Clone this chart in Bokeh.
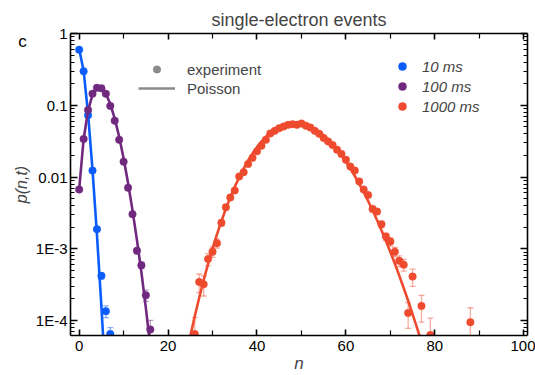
from bokeh.plotting import figure
from bokeh.models import (Range1d, LinearAxis, LogAxis, FixedTicker, Legend, LegendItem, Label,
                          ColumnDataSource)
from bokeh.embed import file_html
from bokeh.resources import INLINE

# ---------------- data ----------------
n_10 = [0, 1, 2, 3, 4, 5, 6, 7]
p_10 = [0.595, 0.298, 0.0727, 0.0123, 1.88e-3, 4.2e-4, 1.35e-4, 6.5e-5]
err_10 = [0.002, 0.002, 0.001, 3e-4, 1e-4, 4e-5, 2.5e-5, 1.5e-5]

n_100 = [0, 1, 2, 3, 4, 5, 6, 7, 8, 9, 10, 11, 12, 13, 14, 15, 16]
p_100 = [6.7e-3, 0.0339, 0.086, 0.145, 0.175, 0.172, 0.145, 0.098, 0.061, 0.033, 0.0164,
         7.1e-3, 3.04e-3, 9.4e-4, 5.9e-4, 2.25e-4, 7.5e-5]
err_100 = [3e-4, 8e-4, 1e-3, 1.5e-3, 1.5e-3, 1.5e-3, 1.5e-3, 1e-3, 8e-4, 6e-4, 4e-4,
           2.5e-4, 1.5e-4, 8e-5, 6e-5, 4e-5, 2.6e-5]

n_1000 = [26, 27, 28, 29, 30, 31, 32, 33, 34, 35, 36, 37, 38, 39, 40, 41, 42, 43, 44, 45,
          46, 47, 48, 49, 50, 51, 52, 53, 54, 55, 56, 57, 58, 59, 60, 61, 62, 63, 64, 65,
          66, 67, 68, 69, 70, 71, 72, 73, 74, 75, 77, 79, 88]
p_1000 = [6.5e-5, 3.46e-4, 3.2e-4, 7.2e-4, 9.1e-4, 1.2e-3, 2.3e-3, 3.8e-3, 5.2e-3, 6.5e-3,
          0.0102, 0.0117, 0.0152, 0.0185, 0.0228, 0.0273, 0.033, 0.0405, 0.044, 0.048,
          0.0506, 0.0534, 0.0545, 0.0534, 0.0558, 0.052, 0.049, 0.044, 0.040, 0.035,
          0.0314, 0.028, 0.0241, 0.021, 0.0174, 0.014, 0.0123, 8.7e-3, 6.7e-3, 5.6e-3,
          3.6e-3, 3.3e-3, 2.2e-3, 1.48e-3, 1.26e-3, 9.1e-4, 6.8e-4, 6.0e-4, 1.28e-4, 4.1e-4,
          1.6e-4, 6.3e-5, 9.5e-5]
err_1000 = [4.5e-5, 1.0e-4, 1.0e-4, 1.4e-4, 1.5e-4, 1.8e-4, 2.4e-4, 3.0e-4, 3.5e-4, 4.0e-4,
            5e-4, 5.5e-4, 6e-4, 7e-4, 7.5e-4, 8e-4, 9e-4, 1e-3, 1e-3, 1e-3,
            1e-3, 1e-3, 1e-3, 1e-3, 1e-3, 1e-3, 1e-3, 1e-3, 1e-3, 1e-3,
            1e-3, 1e-3, 1e-3, 9e-4, 8e-4, 7e-4, 6e-4, 5e-4, 4e-4, 3.7e-4,
            3e-4, 2.8e-4, 2.2e-4, 1.8e-4, 1.7e-4, 1.4e-4, 1.2e-4, 1.1e-4, 5e-5, 1.1e-4,
            6.5e-5, 4.5e-5, 5.6e-5]

fit_n_10 = [0, 1, 2, 3, 4, 5, 6]
fit_p_10 = [0.607, 0.303, 0.0758, 0.0126, 1.58e-3, 1.58e-4, 1.3e-5]

fit_n_100 = [0, 1, 2, 3, 4, 5, 6, 7, 8, 9, 10, 11, 12, 13, 14, 15, 16, 17]
fit_p_100 = [6.74e-3, 0.0337, 0.0842, 0.1404, 0.1755, 0.1755, 0.1462, 0.1044, 0.0653, 0.0363,
             0.0181, 8.24e-3, 3.43e-3, 1.32e-3, 4.72e-4, 1.5e-4, 4.3e-5, 1.2e-5]

fit_n_1000 = [24, 25, 26, 27, 28, 29, 30, 31, 32, 33, 34, 35, 36, 37, 38, 39, 40, 41, 42, 43,
              44, 45, 46, 47, 48, 49, 50, 51, 52, 53, 54, 55, 56, 57, 58, 59, 60, 61, 62, 63,
              64, 65, 66, 67, 68, 69, 70, 71, 72, 73, 74, 75, 76, 77, 78]
fit_p_1000 = [3.11e-5, 6.09e-5, 1.15e-4, 2.08e-4, 3.65e-4, 6.16e-4, 1.01e-3, 1.59e-3, 2.43e-3,
              3.62e-3, 5.21e-3, 7.29e-3, 9.93e-3, 0.01315, 0.0170, 0.0213, 0.0261, 0.0312,
              0.0364, 0.0415, 0.0462, 0.0503, 0.0536, 0.0558, 0.0570, 0.0570, 0.0559, 0.0537,
              0.0506, 0.0468, 0.0424, 0.0378, 0.0331, 0.0284, 0.0240, 0.0200, 0.0163, 0.0131,
              0.01034, 8.04e-3, 6.16e-3, 4.64e-3, 3.45e-3, 2.52e-3, 1.82e-3, 1.29e-3, 9.03e-4,
              6.23e-4, 4.24e-4, 2.85e-4, 1.89e-4, 1.23e-4, 7.94e-5, 5.05e-5, 3.18e-5]

series_labels = ["10 ms", "100 ms", "1000 ms"]
series_colors = ["#0B5CFA", "#70297F", "#EE4A2E"]
key_labels = ["experiment", "Poisson"]
panel_letter = "c"

x_ticks = [0, 20, 40, 60, 80, 100]
x_minor = [10, 30, 50, 70, 90]
y_ticks = [1e-4, 1e-3, 1e-2, 1e-1, 1.0]
y_tick_labels = ["1E-4", "1E-3", "0.01", "0.1", "1"]
y_minor = [k * d for d in [1e-5, 1e-4, 1e-3, 1e-2, 1e-1] for k in range(2, 10)]

FONT = "Liberation Sans"
NAN = float("nan")

# ---------------- figure ----------------
p = figure(width=535, height=375, y_axis_type="log",
           x_range=Range1d(-1.95, 100.85), y_range=Range1d(6.2e-5, 1.0),
           output_backend="svg", toolbar_location=None,
           min_border_left=70, min_border_right=8, min_border_top=33, min_border_bottom=38)
p.outline_line_color = None
p.xgrid.visible = False
p.ygrid.visible = False
p.background_fill_color = "white"
p.border_fill_color = "white"

p.title.text = "single-electron events"
p.title.align = "center"
p.title.text_font = FONT
p.title.text_font_size = "18px"
p.title.text_font_style = "normal"
p.title.standoff = 7

xt = FixedTicker(ticks=x_ticks, minor_ticks=x_minor)
yt = FixedTicker(ticks=y_ticks, minor_ticks=y_minor)


def style_axis(ax, major_in, minor_in):
    ax.axis_line_width = 1.6
    ax.axis_line_color = "black"
    ax.major_tick_line_width = 1.6
    ax.minor_tick_line_width = 1.2
    ax.major_tick_in = major_in
    ax.major_tick_out = 0
    ax.minor_tick_in = minor_in
    ax.minor_tick_out = 0
    ax.major_label_text_font = FONT
    ax.major_label_text_font_size = "15px"
    ax.major_label_text_color = "black"


xa = p.xaxis[0]
xa.ticker = xt
style_axis(xa, 6, 5)
xa.major_label_standoff = 5
xa.axis_label = "n"
xa.axis_label_text_font = FONT
xa.axis_label_text_font_style = "italic"
xa.axis_label_text_font_size = "17px"
xa.axis_label_standoff = 0

ya = p.yaxis[0]
ya.ticker = yt
style_axis(ya, 7, 4)
ya.major_label_standoff = 3
ya.major_label_overrides = {v: s for v, s in zip(y_ticks, y_tick_labels)}
ya.axis_label = "p(n,t)"
ya.axis_label_text_font = FONT
ya.axis_label_text_font_style = "italic"
ya.axis_label_text_font_size = "16px"
ya.axis_label_standoff = 3

top = LinearAxis(ticker=xt)
style_axis(top, 6, 5)
top.major_label_text_font_size = "1px"
top.major_label_text_alpha = 0
top.major_label_standoff = 0
p.add_layout(top, "above")

right = LogAxis(ticker=yt)
style_axis(right, 7, 4)
right.major_label_text_font_size = "1px"
right.major_label_text_alpha = 0
right.major_label_standoff = 0
p.add_layout(right, "right")

# ---------------- series ----------------
groups = [(n_10, p_10, err_10, fit_n_10, fit_p_10),
          (n_100, p_100, err_100, fit_n_100, fit_p_100),
          (n_1000, p_1000, err_1000, fit_n_1000, fit_p_1000)]

point_renderers = []
for (nn, pp, ee, fn, fp), col in zip(groups, series_colors):
    up = [a + b for a, b in zip(pp, ee)]
    lo = [max(a - b, 1e-8) for a, b in zip(pp, ee)]
    src = ColumnDataSource(dict(n=nn, p=pp, up=up, lo=lo))
    p.segment(x0="n", y0="lo", x1="n", y1="up", source=src, line_color=col,
              line_alpha=0.45, line_width=1.3)
    p.scatter(x="n", y="up", source=src, marker="dash", size=6, line_color=col,
              line_alpha=0.45, line_width=1.3)
    p.scatter(x="n", y="lo", source=src, marker="dash", size=6, line_color=col,
              line_alpha=0.45, line_width=1.3)
    p.line(fn, fp, line_color=col, line_width=2.6)
    r = p.scatter(x="n", y="p", source=src, marker="circle", size=7.5,
                  fill_color=col, line_color=col, line_width=0.5)
    point_renderers.append(r)

# legend proxies (not drawn: NaN data)
r_exp = p.scatter(x=[NAN], y=[NAN], marker="circle", size=7.5, fill_color="#8a8a8a",
                  line_color="#8a8a8a")
r_poi = p.line(x=[NAN, NAN], y=[NAN, NAN], line_color="#8a8a8a", line_width=2.6)

leg1 = Legend(items=[LegendItem(label=key_labels[0], renderers=[r_exp]),
                     LegendItem(label=key_labels[1], renderers=[r_poi])],
              location=(68, 238), glyph_width=37, glyph_height=18, label_height=18,
              spacing=1, padding=0, margin=0, border_line_color=None,
              background_fill_alpha=0, label_standoff=12,
              label_text_font=FONT, label_text_font_size="15px")
leg2 = Legend(items=[LegendItem(label=lab, renderers=[r])
                     for lab, r in zip(series_labels, point_renderers)],
              location=(322, 219), glyph_width=20, glyph_height=20, label_height=20,
              spacing=0, padding=0, margin=0, border_line_color=None,
              background_fill_alpha=0, label_standoff=10,
              label_text_font=FONT, label_text_font_size="15px",
              label_text_font_style="italic")
p.add_layout(leg1)
p.add_layout(leg2)

# panel letter in the left side panel (centre annotations are clipped to the frame)
panel_label = Label(x=22, y=294.5, x_units="screen", y_units="screen", text=panel_letter,
                    text_font=FONT, text_font_size="17px", text_color="black",
                    text_align="center", text_baseline="middle")
p.add_layout(panel_label, "left")

open("out.html", "w").write(file_html(p, INLINE))
